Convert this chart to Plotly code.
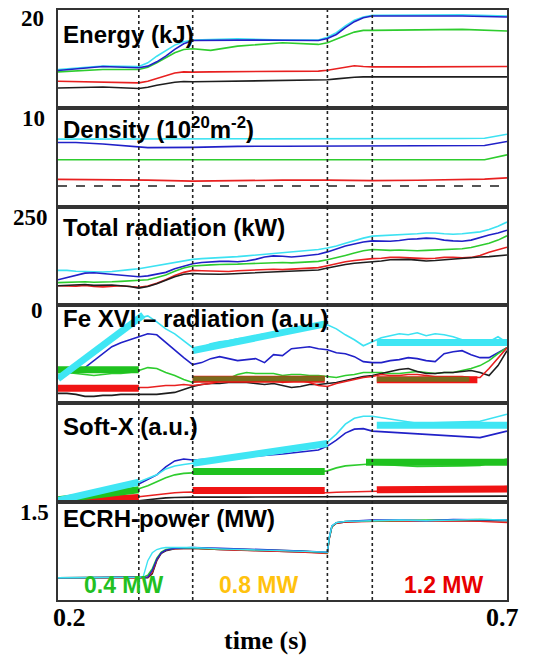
import plotly.graph_objects as go
from plotly.subplots import make_subplots

# ---------------- colours of the five discharges ----------------
C_CYAN, C_BLUE, C_GREEN, C_RED, C_BLACK = "#3DE2F2", "#2121C8", "#2ECC2E", "#E82020", "#1E1E1E"
C_OLIVE = "#7A6A1C"

# ---------------- time axis ----------------
x_range = [0.2, 0.7]
x_tick_vals = [0.2, 0.7]
x_tick_text = ["0.2", "0.7"]
phase_times = [0.29, 0.35, 0.50, 0.55]

# ---------------- Energy (kJ) ----------------
t_energy = [0.20, 0.25, 0.29, 0.30, 0.31, 0.32, 0.33, 0.34, 0.35, 0.37, 0.40, 0.45, 0.49, 0.50, 0.51, 0.52, 0.53, 0.54, 0.55, 0.60, 0.65, 0.70]
energy_cyan = [13.95, 14.29, 14.25, 14.63, 15.3, 15.89, 16.43, 16.77, 16.94, 17.0, 17.07, 16.94, 16.94, 17.24, 17.69, 18.37, 18.95, 19.29, 19.46, 19.49, 19.52, 19.39]
energy_blue = [13.85, 14.25, 14.12, 14.29, 14.73, 15.31, 15.99, 16.56, 16.9, 16.94, 16.94, 16.92, 16.9, 17.1, 17.51, 18.2, 18.81, 19.22, 19.39, 19.39, 19.39, 19.29]
energy_green = [13.71, 13.95, 13.95, 14.18, 14.63, 15.14, 15.65, 15.99, 16.06, 15.89, 16.33, 16.67, 16.5, 16.67, 17.0, 17.41, 17.75, 17.93, 17.93, 17.96, 18.03, 17.86]
energy_red = [12.76, 12.69, 12.59, 12.76, 13.03, 13.37, 13.6, 13.71, 13.68, 13.71, 13.71, 13.78, 13.78, 13.88, 14.05, 14.22, 14.33, 14.25, 14.22, 14.22, 14.25, 14.25]
energy_black = [12.07, 12.17, 12.01, 12.14, 12.35, 12.52, 12.66, 12.73, 12.7, 12.73, 12.76, 12.82, 12.82, 12.9, 13.0, 13.1, 13.16, 13.2, 13.2, 13.2, 13.2, 13.2]

# ---------------- Density ----------------
t_density = [0.20, 0.22, 0.25, 0.29, 0.30, 0.35, 0.40, 0.45, 0.50, 0.55, 0.60, 0.65, 0.675, 0.70]
density_cyan = [6.87, 6.87, 6.88, 6.88, 6.88, 6.9, 6.9, 6.91, 6.92, 6.92, 6.92, 6.93, 6.95, 7.37]
density_blue = [6.53, 6.53, 6.37, 6.03, 6.0, 6.03, 6.13, 6.15, 6.17, 6.17, 6.17, 6.2, 6.22, 6.63]
density_green = [4.77, 4.77, 4.77, 4.73, 4.72, 4.72, 4.7, 4.72, 4.72, 4.72, 4.73, 4.75, 4.77, 5.27]
density_red = [2.77, 2.77, 2.75, 2.73, 2.7, 2.6, 2.68, 2.7, 2.7, 2.65, 2.68, 2.75, 2.8, 2.93]
density_black = [2.1, 2.1, 2.08, 2.05, 2.05, 2.05, 2.07, 2.1, 2.1, 2.07, 2.1, 2.1, 2.1, 2.1]

# ---------------- common 10 ms grid for noisy signals ----------------
t_10ms = [round(0.20 + 0.01 * i, 2) for i in range(51)]

# ---------------- Total radiation (kW) ----------------
rad_cyan = [88, 88, 86, 85, 84, 84, 85, 88, 90, 92, 96, 101, 105, 109, 113, 116, 118, 119, 121, 122, 123, 125, 127, 128, 130, 132, 134, 136, 138, 141, 145, 150, 157, 164, 170, 175, 176, 177, 178, 180, 181, 183, 183, 181, 180, 181, 183, 186, 192, 200, 211]
rad_blue = [64, 70, 76, 81, 82, 80, 77, 75, 73, 72, 74, 78, 83, 92, 99, 105, 108, 110, 111, 111, 110, 112, 116, 122, 125, 124, 122, 124, 127, 129, 135, 143, 150, 155, 160, 163, 163, 162, 164, 167, 168, 170, 169, 165, 163, 162, 165, 172, 178, 183, 190]
rad_green = [57, 58, 58, 59, 58, 58, 59, 60, 61, 62, 64, 70, 76, 86, 94, 99, 101, 102, 103, 103, 104, 105, 106, 106, 108, 108, 107, 108, 110, 111, 115, 120, 126, 132, 138, 141, 140, 139, 140, 139, 138, 139, 140, 140, 141, 143, 146, 151, 157, 165, 176]
rad_red = [49, 49, 48, 50, 47, 46, 48, 49, 47, 45, 48, 55, 64, 75, 83, 88, 87, 86, 86, 85, 87, 88, 89, 90, 91, 90, 91, 92, 93, 95, 100, 105, 110, 113, 116, 118, 119, 121, 121, 120, 119, 118, 119, 121, 121, 120, 121, 126, 134, 140, 147]
rad_black = [49, 50, 51, 52, 50, 51, 51, 49, 47, 43, 47, 54, 63, 72, 78, 80, 79, 78, 78, 79, 80, 81, 82, 84, 85, 86, 86, 87, 88, 89, 94, 99, 103, 106, 108, 109, 112, 115, 116, 116, 114, 112, 113, 115, 117, 119, 121, 122, 123, 125, 127]

# ---------------- Fe XVI radiation (a.u.) ----------------
fe_cyan = [0.25, 0.32, 0.39, 0.46, 0.53, 0.60, 0.67, 0.73, 0.80, 0.86, 0.88, 0.82, 0.75, 0.70, 0.63, 0.56, 0.56, 0.60, 0.62, 0.63, 0.65, 0.66, 0.68, 0.70, 0.69, 0.71, 0.73, 0.74, 0.76, 0.78, 0.79, 0.75, 0.69, 0.64, 0.58, 0.62, 0.66, 0.68, 0.70, 0.69, 0.71, 0.68, 0.70, 0.69, 0.67, 0.64, 0.61, 0.60, 0.62, 0.67, 0.61]
fe_blue = [0.28, 0.30, 0.32, 0.36, 0.43, 0.50, 0.57, 0.61, 0.64, 0.67, 0.70, 0.69, 0.61, 0.53, 0.46, 0.39, 0.41, 0.45, 0.47, 0.45, 0.43, 0.44, 0.45, 0.41, 0.49, 0.48, 0.55, 0.56, 0.57, 0.55, 0.54, 0.51, 0.50, 0.47, 0.42, 0.41, 0.41, 0.43, 0.44, 0.46, 0.45, 0.43, 0.42, 0.50, 0.52, 0.53, 0.49, 0.46, 0.46, 0.51, 0.56]
fe_green = [0.31, 0.31, 0.30, 0.29, 0.28, 0.29, 0.30, 0.30, 0.31, 0.33, 0.36, 0.35, 0.31, 0.28, 0.24, 0.21, 0.23, 0.23, 0.24, 0.25, 0.29, 0.31, 0.30, 0.30, 0.30, 0.28, 0.29, 0.29, 0.28, 0.28, 0.27, 0.26, 0.28, 0.29, 0.31, 0.31, 0.31, 0.30, 0.30, 0.31, 0.32, 0.31, 0.30, 0.31, 0.31, 0.33, 0.35, 0.38, 0.43, 0.50, 0.56]
fe_red = [0.15, 0.15, 0.16, 0.15, 0.15, 0.16, 0.15, 0.15, 0.16, 0.16, 0.16, 0.17, 0.18, 0.18, 0.19, 0.18, 0.19, 0.20, 0.22, 0.23, 0.25, 0.26, 0.25, 0.24, 0.23, 0.21, 0.22, 0.23, 0.21, 0.18, 0.17, 0.20, 0.22, 0.24, 0.26, 0.27, 0.29, 0.28, 0.28, 0.29, 0.29, 0.28, 0.27, 0.27, 0.27, 0.27, 0.26, 0.26, 0.35, 0.46, 0.56]
fe_black = [0.10, 0.10, 0.09, 0.07, 0.07, 0.08, 0.08, 0.09, 0.09, 0.09, 0.09, 0.09, 0.10, 0.11, 0.14, 0.17, 0.19, 0.20, 0.20, 0.21, 0.21, 0.21, 0.20, 0.19, 0.20, 0.18, 0.16, 0.17, 0.19, 0.19, 0.20, 0.21, 0.23, 0.25, 0.27, 0.28, 0.30, 0.32, 0.34, 0.35, 0.32, 0.30, 0.30, 0.31, 0.31, 0.32, 0.33, 0.31, 0.28, 0.38, 0.53]

# linear fits drawn over the Fe XVI signals (None = gap between phases)
fe_fit_cyan_t = [0.20, 0.295, None, 0.35, 0.499, None, 0.555, 0.70]
fe_fit_cyan_v = [0.247, 0.89, None, 0.53, 0.803, None, 0.613, 0.613]
fe_fit_green_t = [0.20, 0.29]
fe_fit_green_v = [0.337, 0.337]
fe_fit_red_t = [0.20, 0.29, None, 0.35, 0.497, None, 0.555, 0.667]
fe_fit_red_v = [0.153, 0.153, None, 0.243, 0.243, None, 0.237, 0.237]
fe_fit_olive_t = [0.35, 0.497, None, 0.555, 0.658]
fe_fit_olive_v = [0.248, 0.248, None, 0.242, 0.242]

# ---------------- Soft-X (a.u.) ----------------
t_sx = [0.20, 0.25, 0.29, 0.30, 0.31, 0.32, 0.33, 0.34, 0.35, 0.40, 0.45, 0.49, 0.50, 0.51, 0.52, 0.53, 0.54, 0.55, 0.60, 0.65, 0.67, 0.70]
sx_cyan = [0.02, 0.11, 0.197, 0.23, 0.27, 0.33, 0.36, 0.375, 0.387, 0.45, 0.51, 0.56, 0.60, 0.68, 0.78, 0.84, 0.86, 0.86, 0.79, 0.80, 0.81, 0.88]
sx_blue = [0.01, 0.09, 0.177, 0.22, 0.27, 0.35, 0.41, 0.43, 0.42, 0.445, 0.48, 0.52, 0.56, 0.62, 0.69, 0.73, 0.735, 0.71, 0.68, 0.655, 0.645, 0.71]
sx_green = [0.03, 0.08, 0.13, 0.16, 0.20, 0.24, 0.27, 0.285, 0.29, 0.30, 0.30, 0.30, 0.31, 0.34, 0.36, 0.37, 0.375, 0.38, 0.355, 0.36, 0.365, 0.43]
sx_red = [0.0, 0.02, 0.05, 0.06, 0.075, 0.085, 0.09, 0.095, 0.097, 0.09, 0.09, 0.087, 0.09, 0.095, 0.097, 0.10, 0.10, 0.105, 0.115, 0.13, 0.135, 0.153]
sx_black = [0.0, 0.005, 0.01, 0.02, 0.03, 0.038, 0.042, 0.045, 0.046, 0.046, 0.047, 0.048, 0.048, 0.05, 0.052, 0.053, 0.054, 0.055, 0.056, 0.056, 0.056, 0.056]

sx_fit_cyan_t = [0.20, 0.29, None, 0.35, 0.50, None, 0.555, 0.70]
sx_fit_cyan_v = [0.01, 0.197, None, 0.387, 0.585, None, 0.77, 0.77]
sx_fit_green_t = [0.20, 0.29, None, 0.35, 0.497, None, 0.543, 0.70]
sx_fit_green_v = [0.02, 0.12, None, 0.303, 0.303, None, 0.397, 0.397]
sx_fit_red_t = [0.20, 0.29, None, 0.35, 0.497, None, 0.555, 0.70]
sx_fit_red_v = [0.0, 0.043, None, 0.113, 0.113, None, 0.12, 0.127]

# ---------------- ECRH power (MW) ----------------
t_ecrh = [0.20, 0.23, 0.26, 0.29, 0.295, 0.30, 0.305, 0.31, 0.315, 0.32, 0.33, 0.35, 0.38, 0.41, 0.44, 0.47, 0.50, 0.502, 0.505, 0.51, 0.52, 0.55, 0.58, 0.61, 0.64, 0.67, 0.70]
ecrh_cyan = [0.34, 0.345, 0.34, 0.345, 0.36, 0.60, 0.72, 0.77, 0.79, 0.80, 0.80, 0.80, 0.78, 0.77, 0.76, 0.75, 0.73, 0.95, 1.13, 1.18, 1.20, 1.21, 1.22, 1.21, 1.22, 1.23, 1.22]
ecrh_blue = [0.34, 0.34, 0.345, 0.34, 0.34, 0.35, 0.45, 0.62, 0.72, 0.76, 0.79, 0.80, 0.79, 0.78, 0.77, 0.75, 0.73, 0.95, 1.13, 1.18, 1.20, 1.22, 1.22, 1.21, 1.23, 1.23, 1.22]
ecrh_green = [0.34, 0.34, 0.34, 0.345, 0.35, 0.38, 0.48, 0.64, 0.73, 0.77, 0.79, 0.79, 0.78, 0.77, 0.76, 0.75, 0.72, 0.94, 1.12, 1.18, 1.20, 1.21, 1.22, 1.22, 1.22, 1.23, 1.22]
ecrh_red = [0.34, 0.335, 0.34, 0.34, 0.34, 0.345, 0.42, 0.61, 0.72, 0.76, 0.78, 0.79, 0.77, 0.76, 0.75, 0.73, 0.71, 0.93, 1.12, 1.17, 1.19, 1.20, 1.21, 1.20, 1.21, 1.20, 1.18]
ecrh_black = [0.34, 0.34, 0.34, 0.34, 0.34, 0.34, 0.40, 0.60, 0.71, 0.75, 0.78, 0.79, 0.77, 0.76, 0.75, 0.74, 0.72, 0.93, 1.12, 1.17, 1.19, 1.21, 1.21, 1.21, 1.22, 1.22, 1.21]

power_labels = ["0.4 MW", "0.8 MW", "1.2 MW"]
power_label_t = [0.273, 0.424, 0.630]
power_label_colors = ["#22C022", "#FFC20E", "#E80000"]

panel_titles = ["Energy (kJ)", "Density (10<sup>20</sup>m<sup>-2</sup>)", "Total radiation (kW)",
                "Fe XVI \u2013 radiation (a.u.)", "Soft-X (a.u.)", "ECRH-power (MW)"]
panel_ranges = [[10, 20], [0, 10], [0, 250], [0, 0.99], [0, 0.99], [0, 1.5]]
panel_top_labels = ["20", "10", "250", "0", None, "1.5"]

# ---------------- figure ----------------
fig = make_subplots(rows=6, cols=1, shared_xaxes=True, vertical_spacing=0)


def add_signal(row, t, v, color, width=1.6, dash="solid"):
    fig.add_trace(go.Scatter(x=t, y=v, mode="lines", line=dict(color=color, width=width, dash=dash),
                             showlegend=False, hoverinfo="skip"), row=row, col=1)


def add_fit(row, t, v, color, width=7):
    fig.add_trace(go.Scatter(x=t, y=v, mode="lines", connectgaps=False,
                             line=dict(color=color, width=width), showlegend=False,
                             hoverinfo="skip"), row=row, col=1)


# Energy
for v, c in [(energy_black, C_BLACK), (energy_red, C_RED), (energy_green, C_GREEN),
             (energy_cyan, C_CYAN), (energy_blue, C_BLUE)]:
    add_signal(1, t_energy, v, c)
# Density
add_signal(2, t_density, density_black, C_BLACK, dash="dash")
for v, c in [(density_red, C_RED), (density_green, C_GREEN), (density_blue, C_BLUE), (density_cyan, C_CYAN)]:
    add_signal(2, t_density, v, c)
# Total radiation
for v, c in [(rad_cyan, C_CYAN), (rad_blue, C_BLUE), (rad_green, C_GREEN), (rad_red, C_RED), (rad_black, C_BLACK)]:
    add_signal(3, t_10ms, v, c)
# Fe XVI
for v, c in [(fe_cyan, C_CYAN), (fe_blue, C_BLUE), (fe_green, C_GREEN), (fe_black, C_BLACK), (fe_red, C_RED)]:
    add_signal(4, t_10ms, v, c)
add_fit(4, fe_fit_green_t, fe_fit_green_v, "#1FC21F")
add_fit(4, fe_fit_red_t, fe_fit_red_v, "#F01414")
add_fit(4, fe_fit_olive_t, fe_fit_olive_v, C_OLIVE, width=5)
add_fit(4, fe_fit_cyan_t, fe_fit_cyan_v, "#3FE6F4")
# Soft-X
for v, c in [(sx_black, C_BLACK), (sx_red, C_RED), (sx_green, C_GREEN), (sx_blue, C_BLUE), (sx_cyan, C_CYAN)]:
    add_signal(5, t_sx, v, c)
add_fit(5, sx_fit_red_t, sx_fit_red_v, "#F01414")
add_fit(5, sx_fit_green_t, sx_fit_green_v, "#1FC21F")
add_fit(5, sx_fit_cyan_t, sx_fit_cyan_v, "#3FE6F4")
# ECRH
for v, c in [(ecrh_black, C_BLACK), (ecrh_red, C_RED), (ecrh_green, C_GREEN), (ecrh_blue, C_BLUE), (ecrh_cyan, C_CYAN)]:
    add_signal(6, t_ecrh, v, c, width=1.4)

# axes
for r in range(1, 7):
    fig.update_xaxes(range=x_range, showline=True, mirror=True, linecolor="#333333", linewidth=2,
                     showgrid=False, zeroline=False, ticks="", showticklabels=False, row=r, col=1)
    fig.update_yaxes(range=panel_ranges[r - 1], showline=True, mirror=True, linecolor="#333333",
                     linewidth=2, showgrid=False, zeroline=False, ticks="", showticklabels=False,
                     row=r, col=1)

# vertical dotted phase markers spanning all panels
for tp in phase_times:
    fig.add_shape(type="line", xref="x6", yref="paper", x0=tp, x1=tp, y0=0, y1=1,
                  line=dict(color="#222222", width=1.6, dash="dot"), layer="above")

title_font = dict(family="Liberation Sans, Arial, sans-serif", size=24, color="black")
serif_font = dict(family="Liberation Serif, Times New Roman, serif", size=23, color="black")
title_drop = [24, 20, 21, 13, 23, 17]
label_drop = [8, 10, 11, 5, 0, 11]
label_xpix = [32, 33, 30, 37, 0, 34]

annotations = []
for i in range(6):
    yref = f"y{i + 1 if i else ''} domain"
    annotations.append(dict(text="<b>" + panel_titles[i] + "</b>", xref="paper", yref=yref,
                            x=0, xshift=3, y=1, yshift=-title_drop[i], xanchor="left", yanchor="middle",
                            showarrow=False, font=title_font))
    if panel_top_labels[i]:
        annotations.append(dict(text="<b>" + panel_top_labels[i] + "</b>", xref="paper", yref=yref,
                                x=0, xshift=label_xpix[i] - 58, y=1, yshift=-label_drop[i],
                                xanchor="center", yanchor="middle", showarrow=False, font=serif_font))

# power level labels inside the ECRH panel
for txt, tt, col in zip(power_labels, power_label_t, power_label_colors):
    annotations.append(dict(text="<b>" + txt + "</b>", xref="x6", yref="y6", x=tt, y=0.23,
                            xanchor="center", yanchor="middle", showarrow=False,
                            font=dict(family="Liberation Sans, Arial, sans-serif", size=23, color=col)))

# bottom time axis labels
big_serif = dict(family="Liberation Serif, Times New Roman, serif", size=26, color="black")
annotations.append(dict(text="<b>" + x_tick_text[0] + "</b>", xref="x6", yref="paper", x=x_tick_vals[0],
                        xshift=11, y=0, yshift=-17, xanchor="center", yanchor="middle", showarrow=False,
                        font=big_serif))
annotations.append(dict(text="<b>" + x_tick_text[1] + "</b>", xref="x6", yref="paper", x=x_tick_vals[1],
                        xshift=-5, y=0, yshift=-17, xanchor="center", yanchor="middle", showarrow=False,
                        font=big_serif))
annotations.append(dict(text="<b>time (s)</b>", xref="paper", yref="paper", x=0, xshift=265 - 58,
                        y=0, yshift=-40, xanchor="center", yanchor="middle", showarrow=False,
                        font=big_serif))

# the page body adds an 8 px offset, so the figure is 8 px smaller and margins compensate
fig.update_layout(width=532, height=652, margin=dict(l=50, r=33, t=0, b=60),
                  paper_bgcolor="white", plot_bgcolor="white", showlegend=False,
                  annotations=annotations)

fig.write_html("out.html")
